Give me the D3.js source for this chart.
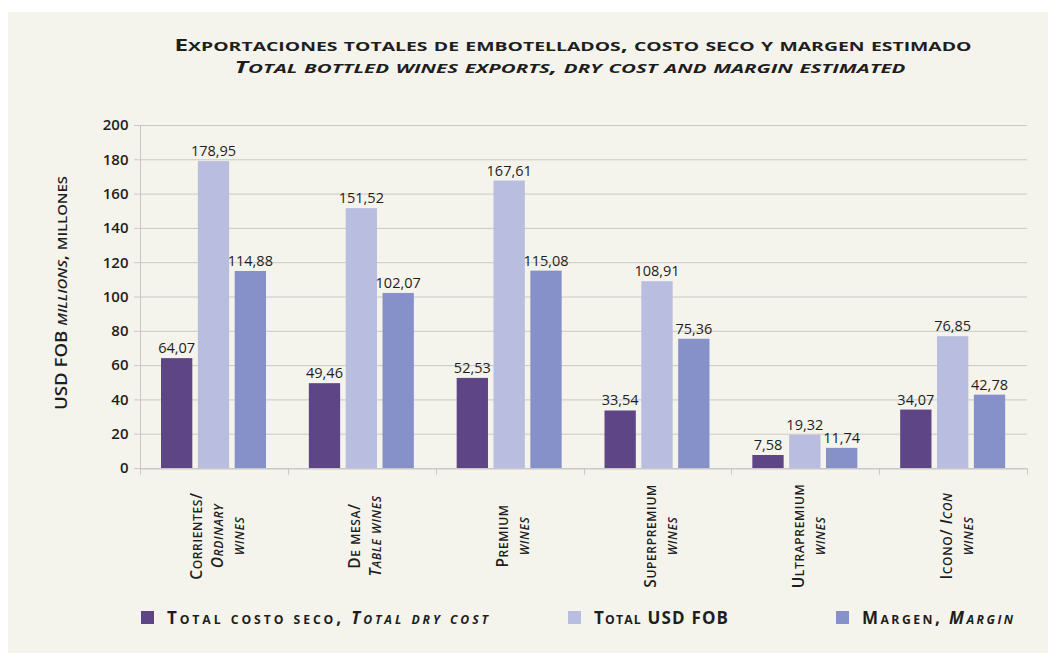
<!DOCTYPE html>
<html><head><meta charset="utf-8">
<script src="https://cdn.jsdelivr.net/npm/d3@7"></script>
<style>
body{margin:0;background:#fff;}
svg{display:block;}
text{font-family:"Open Sans","Noto Sans",sans-serif;fill:#1e1e1e;}
</style></head>
<body>
<svg id="chart" width="1048" height="653"></svg>
<script>
const categories = ["Corrientes", "De mesa", "Premium", "Superpremium", "Ultrapremium", "Icono"];
// label lines: segments wrapped in _..._ are italic
const categoryLines = [
  ["Corrientes/", "_Ordinary_", "_wines_"],
  ["De mesa/", "_Table wines_"],
  ["Premium", "_wines_"],
  ["Superpremium", "_wines_"],
  ["Ultrapremium", "_wines_"],
  ["Icono/ _Icon_", "_wines_"]
];
const seriesNames = ["Total costo seco, _Total dry cost_", "Total USD FOB", "Margen, _Margin_"];
const costoSeco = [64.07, 49.46, 52.53, 33.54, 7.58, 34.07];
const totalFob = [178.95, 151.52, 167.61, 108.91, 19.32, 76.85];
const margen = [114.88, 102.07, 115.08, 75.36, 11.74, 42.78];
const yTicks = [0, 20, 40, 60, 80, 100, 120, 140, 160, 180, 200];
const titleLine1 = "Exportaciones totales de embotellados, costo seco y margen estimado";
const titleLine2 = "_Total bottled wines exports, dry cost and margin estimated_";
const yTitle = "USD FOB _millions_, millones";

const colors = ["#5e4686", "#b9bddf", "#8591c8"];
const series = [costoSeco, totalFob, margen];

const svg = d3.select("#chart");
svg.append("rect").attr("x", 8).attr("y", 12).attr("width", 1040).attr("height", 641).attr("fill", "#f5f4ec");

const x0 = d3.scaleBand().domain(categories).range([140, 1027]).paddingInner(0).paddingOuter(0);
const x1 = d3.scaleBand().domain([0, 1, 2]).range([21, 126]).paddingInner(0.15);
const y = d3.scaleLinear().domain([0, 200]).range([468, 125]);

// custom small caps: lowercase letters shown as reduced capitals; _..._ italic
function smallCaps(sel, str, size, ratio) {
  const parts = str.split("_");
  parts.forEach((p, i) => {
    if (!p) return;
    const italic = i % 2 === 1;
    const runs = p.match(/([a-zñáéíóú]+|[^a-zñáéíóú]+)/g) || [];
    runs.forEach(r => {
      const lower = /[a-zñáéíóú]/.test(r[0]);
      sel.append("tspan")
        .attr("font-style", italic ? "italic" : "normal")
        .attr("font-size", lower ? size * ratio : size)
        .text(r.toUpperCase());
    });
  });
}

// gridlines
svg.append("g").selectAll("line").data(yTicks).join("line")
  .attr("x1", 134).attr("x2", 1027)
  .attr("y1", d => y(d) + 0.5).attr("y2", d => y(d) + 0.5)
  .attr("stroke", "#c8c8c8").attr("stroke-width", 1);

// y axis
const yAxis = d3.axisLeft(y).tickValues(yTicks).tickSize(0).tickPadding(12);
const gy = svg.append("g").attr("transform", "translate(140.5,0)").call(yAxis);
gy.select(".domain").attr("stroke", "#c8c8c8").attr("d", "M0,125V473");
gy.selectAll("text").attr("font-size", 15).attr("font-weight", 600).attr("fill", "#1e1e1e")
  .attr("font-family", "'Open Sans',sans-serif");

// x axis
const xAxis = d3.axisBottom(x0).tickSize(0).tickFormat("");
const gx = svg.append("g").attr("transform", "translate(0,468.5)").call(xAxis);
gx.select(".domain").attr("stroke", "#c8c8c8");
const bounds = [140, ...categories.map(c => x0(c) + x0.bandwidth())];
gx.selectAll("line.sep").data(bounds).join("line").attr("class", "sep")
  .attr("x1", d => Math.round(d) + 0.5).attr("x2", d => Math.round(d) + 0.5)
  .attr("y1", 0).attr("y2", 6).attr("stroke", "#c8c8c8");

// bars
const groups = svg.append("g").selectAll("g").data(categories).join("g")
  .attr("transform", c => `translate(${x0(c)},0)`);
groups.each(function(c, ci) {
  const g = d3.select(this);
  series.forEach((s, si) => {
    g.append("rect").attr("x", x1(si)).attr("width", x1.bandwidth())
      .attr("y", y(s[ci])).attr("height", y(0) - y(s[ci])).attr("fill", colors[si]);
    g.append("text").attr("x", x1(si) + x1.bandwidth() / 2).attr("y", y(s[ci]) - 5)
      .attr("text-anchor", "middle").attr("font-size", 14.5)
      .text(d3.format(".2f")(s[ci]).replace(".", ","));
  });
});

// category labels (rotated)
categories.forEach((c, ci) => {
  const lines = categoryLines[ci];
  const cx = x0(c) + x0.bandwidth() / 2 + 4;
  const n = lines.length;
  lines.forEach((ln, li) => {
    const lx = cx + (li - (n - 1) / 2) * 21 + 5;
    const t = svg.append("text")
      .attr("transform", `translate(${lx},536) rotate(-90)`)
      .attr("text-anchor", "middle")
      .attr("font-weight", 600)
      .attr("letter-spacing", 0.6);
    smallCaps(t, ln, 15.5, 0.78);
  });
});

// y title
const yt = svg.append("text").attr("transform", "translate(67,293) rotate(-90)")
  .attr("text-anchor", "middle").attr("font-weight", 600)
  .attr("textLength", 234).attr("lengthAdjust", "spacingAndGlyphs");
smallCaps(yt, yTitle, 16, 0.8);

// title: two lines
const t1 = svg.append("text").attr("x", 573).attr("y", 51).attr("text-anchor", "middle").attr("font-weight", 700)
  .attr("textLength", 797).attr("lengthAdjust", "spacingAndGlyphs");
smallCaps(t1, titleLine1, 16.5, 0.8);
const t2 = svg.append("text").attr("x", 570).attr("y", 73).attr("text-anchor", "middle").attr("font-weight", 700)
  .attr("textLength", 671).attr("lengthAdjust", "spacingAndGlyphs");
smallCaps(t2, titleLine2, 16.5, 0.8);

// legend
const legX = [141, 568, 836];
const legW = [321, 134, 151];
seriesNames.forEach((name, i) => {
  svg.append("rect").attr("x", legX[i]).attr("y", 611).attr("width", 13).attr("height", 13).attr("fill", colors[i]);
  const t = svg.append("text").attr("x", legX[i] + 26).attr("y", 624)
    .attr("font-weight", 700)
    .attr("textLength", legW[i]).attr("lengthAdjust", "spacing");
  smallCaps(t, name, 17, 0.72);
});
</script>
</body></html>
